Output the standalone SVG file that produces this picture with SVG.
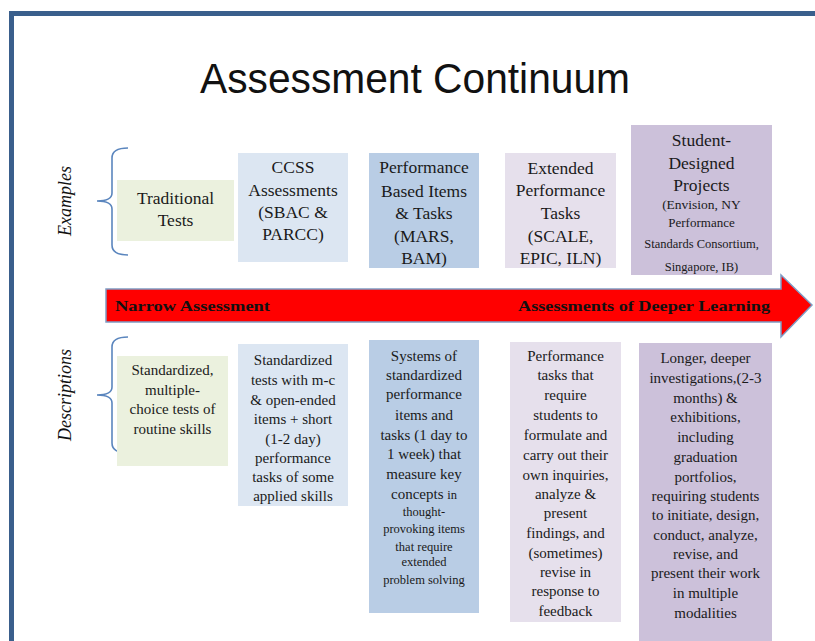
<svg xmlns="http://www.w3.org/2000/svg" width="815" height="641" viewBox="0 0 815 641">
<style>
text.t{font-family:"Liberation Serif",serif;fill:#1a1a1a;text-anchor:middle}
text.h{font-size:17.5px}
text.d{font-size:15px}
text.s{font-size:12.5px}
text.side{font-family:"Liberation Serif",serif;font-style:italic;font-size:18px;fill:#111;text-anchor:middle}
.brace{fill:none;stroke:#5B86BE;stroke-width:1.6}
text.ab{font-family:"Liberation Serif",serif;font-weight:bold;font-size:15px;fill:#111}
</style>
<rect x="0" y="0" width="815" height="641" fill="#fff"/>
<rect x="11.5" y="13.5" width="830" height="660" fill="none" stroke="#3A5F8C" stroke-width="5"/>
<text x="415" y="93" font-family="'Liberation Sans',Arial,sans-serif" font-size="42" fill="#111" text-anchor="middle" textLength="430" lengthAdjust="spacingAndGlyphs">Assessment Continuum</text>

<g id="labels">
<text class="side" transform="translate(71,201) rotate(-90)">Examples</text>
<text class="side" transform="translate(71,395) rotate(-90)">Descriptions</text>
<path class="brace" d="M128,148 Q112,148 112,158 L112,193 Q112,201 97,201 Q112,201 112,209 L112,245 Q112,255 128,255"/>
<path class="brace" d="M128,337 Q112,337 112,347 L112,387 Q112,395 97,395 Q112,395 112,403 L112,443 Q112,453 128,453"/>
</g>

<g id="connectors">
<polygon points="106,289 781,289 781,275 812,305 781,337 781,322 106,322" fill="#FF0000" stroke="#7F9CC4" stroke-width="1.5"/>
<text class="ab" x="115" y="311" textLength="155" lengthAdjust="spacingAndGlyphs">Narrow Assessment</text>
<text class="ab" x="518" y="311" textLength="252" lengthAdjust="spacingAndGlyphs">Assessments of Deeper Learning</text>
</g>

<g font-family="Liberation Serif, serif">
<g id="ex-traditional">
<rect x="117" y="180" width="117" height="61" fill="#EBF1DE"/>
<text class="t h" x="175.5" y="204">Traditional</text>
<text class="t h" x="175.5" y="226">Tests</text>
</g>
<g id="ex-ccss">
<rect x="238" y="153" width="110" height="109" fill="#DCE6F2"/>
<text class="t h" x="293" y="173">CCSS</text>
<text class="t h" x="293" y="196">Assessments</text>
<text class="t h" x="293" y="218">(SBAC &amp;</text>
<text class="t h" x="293" y="240">PARCC)</text>
</g>
<g id="ex-pbi">
<rect x="369" y="153" width="110" height="115" fill="#B9CDE5"/>
<text class="t h" x="424" y="173">Performance</text>
<text class="t h" x="424" y="197">Based Items</text>
<text class="t h" x="424" y="219">&amp; Tasks</text>
<text class="t h" x="424" y="242">(MARS,</text>
<text class="t h" x="424" y="264">BAM)</text>
</g>
<g id="ex-extended">
<rect x="505" y="153" width="111" height="115" fill="#E6E0EC"/>
<text class="t h" x="560.5" y="174">Extended</text>
<text class="t h" x="560.5" y="196">Performance</text>
<text class="t h" x="560.5" y="219">Tasks</text>
<text class="t h" x="560.5" y="242">(SCALE,</text>
<text class="t h" x="560.5" y="264">EPIC, ILN)</text>
</g>
<g id="ex-student">
<rect x="631" y="125" width="141" height="150" fill="#CCC1DA"/>
<text class="t h" x="701.5" y="146">Student-</text>
<text class="t h" x="701.5" y="169">Designed</text>
<text class="t h" x="701.5" y="191">Projects</text>
<text class="t" x="701.5" y="209" font-size="13.5">(Envision, NY</text>
<text class="t" x="701.5" y="227" font-size="13">Performance</text>
<text class="t" x="701.5" y="248" font-size="12.5">Standards Consortium,</text>
<text class="t" x="701.5" y="271" font-size="12.5">Singapore, IB)</text>
</g>

<g id="desc-traditional">
<rect x="117" y="356" width="111" height="110" fill="#EBF1DE"/>
<text class="t d" x="172.5" y="375">Standardized,</text>
<text class="t d" x="172.5" y="395">multiple-</text>
<text class="t d" x="172.5" y="414">choice tests of</text>
<text class="t d" x="172.5" y="434">routine skills</text>
</g>
<g id="desc-ccss">
<rect x="238" y="344" width="110" height="162" fill="#DCE6F2"/>
<text class="t d" x="293" y="365">Standardized</text>
<text class="t d" x="293" y="385">tests with m-c</text>
<text class="t d" x="293" y="405">&amp; open-ended</text>
<text class="t d" x="293" y="424">items + short</text>
<text class="t d" x="293" y="444">(1-2 day)</text>
<text class="t d" x="293" y="463">performance</text>
<text class="t d" x="293" y="482">tasks of some</text>
<text class="t d" x="293" y="501">applied skills</text>
</g>
<g id="desc-pbi">
<rect x="369" y="340" width="110" height="273" fill="#B9CDE5"/>
<text class="t d" x="424" y="361">Systems of</text>
<text class="t d" x="424" y="380">standardized</text>
<text class="t d" x="424" y="399">performance</text>
<text class="t d" x="424" y="420">items and</text>
<text class="t d" x="424" y="440">tasks (1 day to</text>
<text class="t d" x="424" y="459">1 week) that</text>
<text class="t d" x="424" y="479">measure  key</text>
<text class="t d" x="424" y="499">concepts <tspan font-size="12.5">in</tspan></text>
<text class="t s" x="424" y="516">thought-</text>
<text class="t s" x="424" y="533">provoking items</text>
<text class="t s" x="424" y="551">that require</text>
<text class="t s" x="424" y="566">extended</text>
<text class="t s" x="424" y="584">problem solving</text>
</g>
<g id="desc-extended">
<rect x="510" y="342" width="111" height="280" fill="#E6E0EC"/>
<text class="t d" x="565.5" y="361">Performance</text>
<text class="t d" x="565.5" y="380">tasks that</text>
<text class="t d" x="565.5" y="400">require</text>
<text class="t d" x="565.5" y="420">students to</text>
<text class="t d" x="565.5" y="440">formulate  and</text>
<text class="t d" x="565.5" y="460">carry out their</text>
<text class="t d" x="565.5" y="480">own inquiries,</text>
<text class="t d" x="565.5" y="499">analyze &amp;</text>
<text class="t d" x="565.5" y="518">present</text>
<text class="t d" x="565.5" y="538">findings, and</text>
<text class="t d" x="565.5" y="558">(sometimes)</text>
<text class="t d" x="565.5" y="577">revise in</text>
<text class="t d" x="565.5" y="596">response to</text>
<text class="t d" x="565.5" y="616">feedback</text>
</g>
<g id="desc-student">
<rect x="639" y="343" width="133" height="300" fill="#CCC1DA"/>
<text class="t d" x="705.5" y="363">Longer, deeper</text>
<text class="t d" x="705.5" y="383">investigations,(2-3</text>
<text class="t d" x="705.5" y="403">months) &amp;</text>
<text class="t d" x="705.5" y="422">exhibitions,</text>
<text class="t d" x="705.5" y="442">including</text>
<text class="t d" x="705.5" y="462">graduation</text>
<text class="t d" x="705.5" y="482">portfolios,</text>
<text class="t d" x="705.5" y="501">requiring students</text>
<text class="t d" x="705.5" y="520">to  initiate, design,</text>
<text class="t d" x="705.5" y="540">conduct, analyze,</text>
<text class="t d" x="705.5" y="559">revise, and</text>
<text class="t d" x="705.5" y="578">present their work</text>
<text class="t d" x="705.5" y="598">in multiple</text>
<text class="t d" x="705.5" y="618">modalities</text>
</g>
</g>
</svg>
